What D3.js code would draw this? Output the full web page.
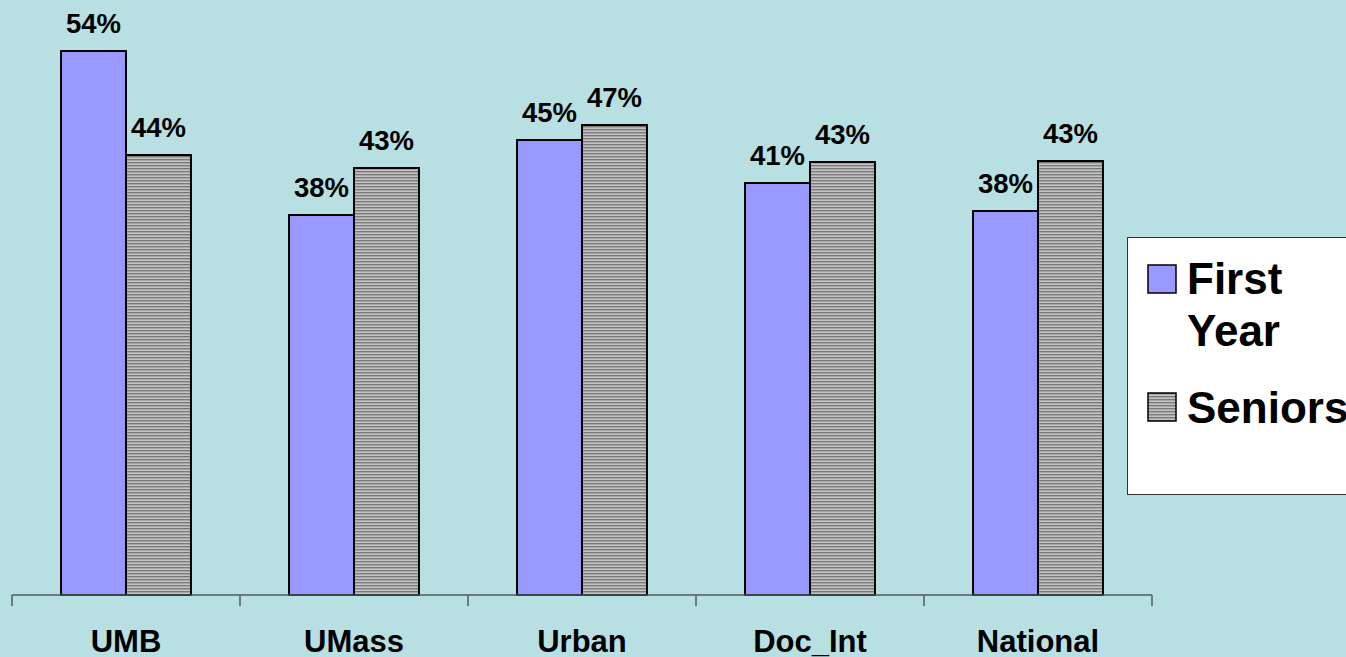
<!DOCTYPE html>
<html>
<head>
<meta charset="utf-8">
<script src="https://cdn.jsdelivr.net/npm/d3@7/dist/d3.min.js"></script>
<style>
  html, body { margin: 0; padding: 0; background: #b8e0e2; }
  svg { display: block; }
  text { font-family: "Liberation Sans", Arial, sans-serif; font-weight: bold; fill: #000; }
</style>
</head>
<body>
<svg id="chart" width="1346" height="657"></svg>
<script>
const categories = ["UMB", "UMass", "Urban", "Doc_Int", "National"];
const seriesNames = ["First Year", "Seniors"];
const firstYear = [54.4, 38.0, 45.5, 41.2, 38.4];
const seniors = [44.0, 42.7, 47.0, 43.3, 43.4];
const firstYearLabels = ["54%", "38%", "45%", "41%", "38%"];
const seniorsLabels = ["44%", "43%", "47%", "43%", "43%"];

const W = 1346, H = 657;
const svg = d3.select("#chart");
svg.append("rect").attr("width", W).attr("height", H).attr("fill", "#b8e0e2");

const defs = svg.append("defs");
const pat = defs.append("pattern").attr("id", "hatch")
  .attr("patternUnits", "userSpaceOnUse").attr("width", 6).attr("height", 3);
pat.append("rect").attr("width", 6).attr("height", 3).attr("fill", "#c4c4c4");
pat.append("rect").attr("y", 0).attr("width", 6).attr("height", 1.4).attr("fill", "#7a7a7a");

const x0 = d3.scaleBand().domain(categories).range([12, 1152])
  .paddingInner(0.43).paddingOuter(0.215);
const x1 = d3.scaleBand().domain(seriesNames).range([0, x0.bandwidth()]);
const y = d3.scaleLinear().domain([0, 59.5]).range([595, 0]);

const fills = { "First Year": "#9999ff", "Seniors": "url(#hatch)" };
const data = categories.map((c, i) => ({
  cat: c,
  vals: [
    { s: "First Year", v: firstYear[i], label: firstYearLabels[i] },
    { s: "Seniors", v: seniors[i], label: seniorsLabels[i] }
  ]
}));

const g = svg.append("g");
const groups = g.selectAll("g.grp").data(data).join("g")
  .attr("class", "grp")
  .attr("transform", d => `translate(${x0(d.cat)},0)`);

groups.selectAll("rect").data(d => d.vals).join("rect")
  .attr("x", d => x1(d.s))
  .attr("y", d => y(d.v))
  .attr("width", x1.bandwidth())
  .attr("height", d => y(0) - y(d.v))
  .attr("fill", d => fills[d.s])
  .attr("stroke", "#000")
  .attr("stroke-width", 2);

groups.selectAll("text.val").data(d => d.vals).join("text")
  .attr("class", "val")
  .attr("x", d => x1(d.s) + x1.bandwidth() / 2)
  .attr("y", d => y(d.v) - 18)
  .attr("text-anchor", "middle")
  .attr("font-size", 27.5)
  .text(d => d.label);

// axis
const axisG = svg.append("g");
axisG.append("line")
  .attr("x1", x0.range()[0]).attr("x2", x0.range()[1])
  .attr("y1", y(0)).attr("y2", y(0))
  .attr("stroke", "#4f5b5c").attr("stroke-width", 1.5);
const step = x0.step();
const tickPos = d3.range(categories.length + 1).map(i => x0.range()[0] + i * step);
axisG.selectAll("line.tick").data(tickPos).join("line")
  .attr("class", "tick")
  .attr("x1", d => d).attr("x2", d => d)
  .attr("y1", y(0)).attr("y2", y(0) + 11)
  .attr("stroke", "#4f5b5c").attr("stroke-width", 1.5);
axisG.selectAll("text.cat").data(categories).join("text")
  .attr("class", "cat")
  .attr("x", d => x0(d) + x0.bandwidth() / 2)
  .attr("y", 652)
  .attr("text-anchor", "middle")
  .attr("font-size", 31)
  .text(d => d);

// legend
const leg = svg.append("g");
leg.append("rect").attr("x", 1127.5).attr("y", 237.5).attr("width", 240).attr("height", 257)
  .attr("fill", "#fff").attr("stroke", "#333").attr("stroke-width", 1);
leg.append("rect").attr("x", 1148).attr("y", 265).attr("width", 28).attr("height", 28)
  .attr("fill", fills["First Year"]).attr("stroke", "#000").attr("stroke-width", 1.5);
leg.append("text").attr("x", 1187).attr("y", 294).attr("font-size", 44).text("First");
leg.append("text").attr("x", 1187).attr("y", 346).attr("font-size", 44).text("Year");
leg.append("rect").attr("x", 1148).attr("y", 393).attr("width", 28).attr("height", 28)
  .attr("fill", fills["Seniors"]).attr("stroke", "#000").attr("stroke-width", 1.5);
leg.append("text").attr("x", 1187).attr("y", 423).attr("font-size", 44).text("Seniors");
</script>
</body>
</html>
